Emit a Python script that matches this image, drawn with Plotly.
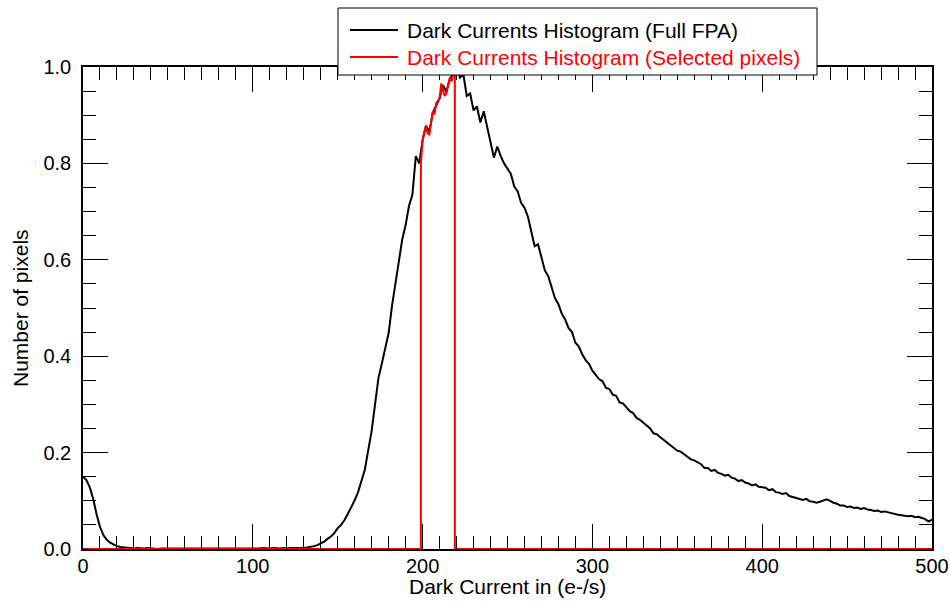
import numpy as np
import plotly.graph_objects as go

# Full FPA histogram, bins every 2 e-/s from 0 to 500
full_x = np.arange(0, 501, 2)
full_y = [
    0.150, 0.143, 0.128, 0.104, 0.072, 0.046, 0.029, 0.019, 0.013, 0.009, 0.006, 0.004, 0.003, 0.002, 0.002,
    0.001, 0.002, 0.001, 0.001, 0.002, 0.001, 0.001, 0.000, 0.001, 0.001,
    0.001, 0.000, 0.001, 0.001, 0.000, 0.001, 0.001, 0.000, 0.001, 0.000,
    0.001, 0.000, 0.001, 0.001, 0.000, 0.000, 0.001, 0.000, 0.001, 0.000,
    0.001, 0.001, 0.000, 0.001, 0.000, 0.001, 0.001, 0.001, 0.002, 0.001,
    0.001, 0.002, 0.001, 0.001, 0.002, 0.001, 0.002, 0.002, 0.001, 0.002,
    0.002, 0.003, 0.004, 0.006, 0.008, 0.012, 0.015, 0.021, 0.026, 0.033,
    0.043, 0.050, 0.060, 0.073, 0.086, 0.101, 0.118, 0.140, 0.165, 0.205,
    0.245, 0.300, 0.355, 0.385, 0.415, 0.448, 0.505, 0.548, 0.595, 0.642,
    0.672, 0.712, 0.735, 0.815, 0.800,
    0.848, 0.878, 0.866, 0.905, 0.922, 0.935, 0.962, 0.948, 0.975, 0.985,
    1.000, 0.978, 0.985, 0.940, 0.945, 0.910, 0.918, 0.885, 0.908, 0.876,
    0.848, 0.812, 0.835, 0.815, 0.800,
    0.790, 0.778, 0.752, 0.742, 0.718, 0.708, 0.690, 0.660, 0.628, 0.632,
    0.602, 0.578, 0.566, 0.542, 0.520, 0.508, 0.488, 0.476, 0.458, 0.450,
    0.428, 0.420, 0.404, 0.392, 0.384,
    0.370, 0.362, 0.352, 0.348, 0.334, 0.332, 0.320, 0.318, 0.304, 0.302,
    0.294, 0.286, 0.282, 0.272, 0.268, 0.262, 0.254, 0.250, 0.240, 0.238,
    0.232, 0.226, 0.222, 0.214, 0.210,
    0.204, 0.202, 0.196, 0.192, 0.186, 0.184, 0.180, 0.176, 0.168, 0.168,
    0.162, 0.164, 0.158, 0.156, 0.152, 0.154, 0.148, 0.146, 0.141, 0.143,
    0.138, 0.136, 0.132, 0.134, 0.129,
    0.128, 0.127, 0.122, 0.124, 0.118, 0.117, 0.114, 0.116, 0.110, 0.108,
    0.106, 0.105, 0.102, 0.104, 0.099, 0.098, 0.096, 0.098, 0.100, 0.103,
    0.100, 0.096, 0.094, 0.090, 0.090,
    0.087, 0.088, 0.085, 0.086, 0.083, 0.085, 0.082, 0.081, 0.079, 0.080,
    0.077, 0.078, 0.076, 0.074, 0.072, 0.071, 0.070, 0.069, 0.068, 0.069,
    0.066, 0.067, 0.064, 0.062, 0.057, 0.061,
]

# Selected pixels histogram (non-zero only between 199 and 219 e-/s)
sel_x = [0, 199] + list(range(199, 220)) + [219, 500]
sel_core = [0.800, 0.848, 0.865, 0.878, 0.862, 0.860, 0.885, 0.908, 0.902, 0.925,
            0.930, 0.935, 0.966, 0.955, 0.940, 0.945, 0.965, 0.978, 0.970, 0.985, 1.000]
sel_y = [0, 0] + sel_core + [0, 0]

legend_names = ["Dark Currents Histogram (Full FPA)",
                "Dark Currents Histogram (Selected pixels)"]
legend_colors = ["black", "red"]

FONT = "Liberation Sans, Arial, Helvetica, sans-serif"

fig = go.Figure()
fig.add_trace(go.Scatter(
    x=full_x, y=full_y, mode="lines",
    line=dict(color=legend_colors[0], width=2),
    name=legend_names[0], showlegend=False,
))
fig.add_trace(go.Scatter(
    x=sel_x, y=sel_y, mode="lines",
    line=dict(color=legend_colors[1], width=2),
    name=legend_names[1], showlegend=False,
))

axis_common = dict(
    showgrid=False, zeroline=False, automargin=False,
    showline=True, linecolor="black", linewidth=1.5,
    mirror="allticks", ticks="inside", tickcolor="black", tickwidth=1.2,
    ticklen=25,
    tickfont=dict(family=FONT, size=20, color="black"),
)

fig.update_xaxes(
    range=[0, 500], tick0=0, dtick=100,
    minor=dict(ticks="inside", dtick=10, ticklen=13, tickcolor="black", tickwidth=1.2, showgrid=False),
    ticklabelstandoff=-2,
    **axis_common,
)
fig.update_yaxes(
    range=[0, 1], tick0=0, dtick=0.2, tickformat=".1f",
    minor=dict(ticks="inside", dtick=0.05, ticklen=13, tickcolor="black", tickwidth=1.2, showgrid=False),
    ticklabelstandoff=6,
    **axis_common,
)

# Manual legend box (pixel layout converted to paper coords)
L, R, T, B = 83, 932, 67, 549
W, H = R - L, B - T
def px(x):
    return (x - L) / W
def py(y):
    return (B - y) / H

shapes = [dict(type="rect", xref="paper", yref="paper",
               x0=px(338), x1=px(817), y0=py(75), y1=py(8),
               line=dict(color="black", width=1), fillcolor="white", layer="above")]
annotations = []
for i, (name, col) in enumerate(zip(legend_names, legend_colors)):
    yy = 30 + 27 * i
    shapes.append(dict(type="line", xref="paper", yref="paper",
                       x0=px(350), x1=px(398), y0=py(yy), y1=py(yy),
                       line=dict(color=col, width=2), layer="above"))
    annotations.append(dict(text=name, x=px(405), y=py(yy), xref="paper", yref="paper",
                            xanchor="left", yanchor="middle", showarrow=False,
                            font=dict(family=FONT, size=21, color=col)))

annotations += [
    dict(text="Dark Current in (e-/s)", x=0.5, xref="paper", y=py(586), yref="paper",
         xanchor="center", yanchor="middle", showarrow=False,
         font=dict(family=FONT, size=21, color="black")),
    dict(text="Number of pixels", x=px(20), xref="paper", y=0.5, yref="paper",
         xanchor="center", yanchor="middle", textangle=-90, showarrow=False,
         font=dict(family=FONT, size=21, color="black")),
]

fig.update_layout(
    width=950, height=603,
    margin=dict(l=L, r=950 - R, t=T, b=603 - B),
    paper_bgcolor="white", plot_bgcolor="white",
    font=dict(family=FONT, size=20, color="black"),
    showlegend=False,
    shapes=shapes,
    annotations=annotations,
)

fig.write_html("out.html")
